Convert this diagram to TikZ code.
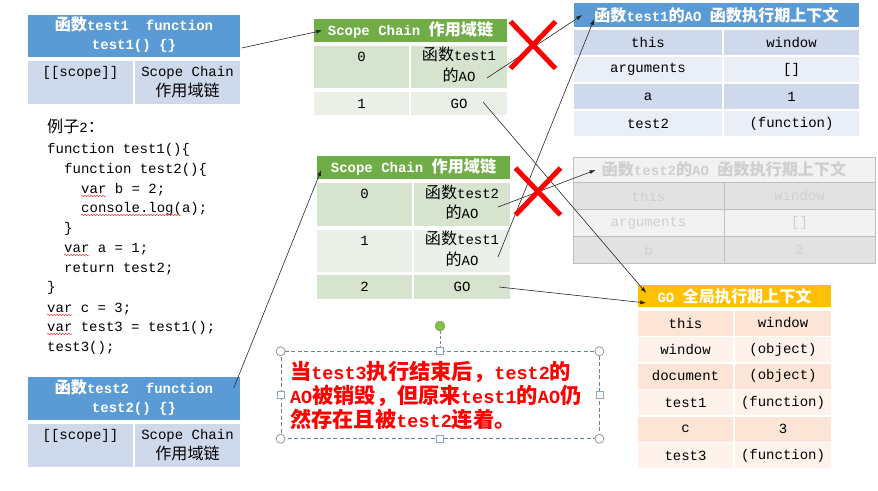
\documentclass[tikz,border=0pt]{standalone}
\usepackage{fontspec}
\setmainfont{Liberation Mono}
\newfontfamily\zhfont[Scale=1.15]{Noto Sans CJK SC}
\newcommand{\zh}[1]{{\zhfont #1}}
\newcommand{\tabfont}{\fontsize{14}{19}\selectfont}
\newcommand{\notefont}{\fontsize{18.5}{24}\selectfont}
\usetikzlibrary{arrows.meta,positioning,shapes.misc,decorations.pathmorphing}

\definecolor{hdblue}{HTML}{5B9BD5}
\definecolor{cellblue}{HTML}{CFD9EC}
\definecolor{paleblue}{HTML}{E9EEF7}
\definecolor{hdgreen}{HTML}{70AD47}
\definecolor{cellgreen}{HTML}{D5E3CF}
\definecolor{palegreen}{HTML}{EAF0E7}
\definecolor{hdorange}{HTML}{FFC000}
\definecolor{cellpeach}{HTML}{FCE4D6}
\definecolor{palepeach}{HTML}{FEF2EA}
\definecolor{fadefill}{HTML}{E2E2E2}
\definecolor{fadepale}{HTML}{F2F2F2}
\definecolor{fadeline}{HTML}{BFBFBF}
\definecolor{fadetext}{HTML}{CFCFCF}
\definecolor{framegray}{HTML}{6A7F9A}
\definecolor{handlegray}{HTML}{8C8C8C}
\definecolor{handleblue}{HTML}{8DA6C4}
\definecolor{rotgreen}{HTML}{80C342}

\tikzset{
  cell/.style={draw=white, line width=1.5pt, inner sep=1pt, align=center, font=\tabfont},
  hdcell/.style={cell, text=white, font=\tabfont\bfseries},
  fadecell/.style={cell, draw=fadeline, line width=0.8pt, text=fadetext},
  codeline/.style={anchor=base west, inner sep=0pt, font=\fontsize{14}{20}\selectfont},
  squig/.style={red!75, line width=0.5pt, decorate, decoration={snake, amplitude=0.8pt, segment length=3pt}},
  conn/.style={-{Latex[length=6pt,width=4pt]}, line width=0.6pt, black!85},
  xmark/.style={cross out, draw=red, line width=5pt, minimum width=40, minimum height=42, inner sep=0pt},
  notebox/.style={draw=framegray, dash pattern=on 4pt off 2.5pt, line width=0.8pt,
    minimum width=318, minimum height=86, text width=300, inner sep=9pt,
    align=left, text=red, font=\notefont\bfseries},
  cornerhandle/.style={circle, draw=handlegray, fill=white, line width=0.7pt, minimum size=9, inner sep=0pt},
  sidehandle/.style={rectangle, draw=handleblue, fill=white, line width=0.7pt, minimum size=7, inner sep=0pt},
  rothandle/.style={circle, draw=handlegray, fill=rotgreen, line width=0.5pt, minimum size=10, inner sep=0pt}
}

\begin{document}
\begin{tikzpicture}[x=1pt,y=-1pt]
  \useasboundingbox (0,0) rectangle (878,490);

  % function test1 object
  \node[hdcell, fill=hdblue, minimum width=214, minimum height=44] (fa) at (134,36) {\zh{函数}test1~~function\strut\\test1() \{\}\strut};
  \node[cell, fill=cellblue, minimum width=107, minimum height=45] (fasc) at (80.5,82.5) {[[scope]]\strut\\\strut};
  \node[cell, fill=cellblue, minimum width=107, minimum height=45] (fach) at (187.5,82.5) {Scope Chain\strut\\\zh{作用域链}\strut};

  % function test2 object
  \node[hdcell, fill=hdblue, minimum width=214, minimum height=45] (fb) at (134,398.5) {\zh{函数}test2~~function\strut\\test2() \{\}\strut};
  \node[cell, fill=cellblue, minimum width=107, minimum height=45] (fbsc) at (80.5,445.5) {[[scope]]\strut\\\strut};
  \node[cell, fill=cellblue, minimum width=107, minimum height=45] (fbch) at (187.5,445.5) {Scope Chain\strut\\\zh{作用域链}\strut};

  % code
  \node[codeline] (c1) at (47,132) {\zh{例子}2\zh{：}};
  \node[codeline] (c2) at (47,153) {function test1()\{};
  \node[codeline] (c3) at (64,173) {function test2()\{};
  \node[codeline] (c4) at (81,193) {var b = 2;};
  \node[codeline] (c5) at (81,212) {console.log(a);};
  \node[codeline] (c6) at (64,232) {\}};
  \node[codeline] (c7) at (64,252) {var a = 1;};
  \node[codeline] (c8) at (64,272) {return test2;};
  \node[codeline] (c9) at (47,291) {\}};
  \node[codeline] (c10) at (47,312) {var c = 3;};
  \node[codeline] (c11) at (47,331) {var test3 = test1();};
  \node[codeline] (c12) at (47,351) {test3();};
  \draw[squig] ([yshift=-3pt]c4.base west) -- ++(25,0);
  \draw[squig] ([yshift=-3pt]c5.base west) -- ++(100,0);
  \draw[squig] ([yshift=-3pt]c7.base west) -- ++(25,0);
  \draw[squig] ([yshift=-3pt]c10.base west) -- ++(25,0);
  \draw[squig] ([yshift=-3pt]c11.base west) -- ++(25,0);

  % scope chain of test1
  \node[hdcell, fill=hdgreen, minimum width=195, minimum height=25] (s1h) at (410.5,30.5) {Scope Chain \zh{作用域链}};
  \node[cell, fill=cellgreen, minimum width=97, minimum height=44] (s1a0) at (361.5,67) {0\strut\\\strut};
  \node[cell, fill=cellgreen, minimum width=98, minimum height=44] (s1b0) at (459,67) {\zh{函数}test1\strut\\\zh{的}AO\strut};
  \node[cell, fill=palegreen, minimum width=97, minimum height=25] (s1a1) at (361.5,103.5) {1};
  \node[cell, fill=palegreen, minimum width=98, minimum height=25] (s1b1) at (459,103.5) {GO};

  % scope chain of test2
  \node[hdcell, fill=hdgreen, minimum width=195, minimum height=25] (s2h) at (413.5,167.5) {Scope Chain \zh{作用域链}};
  \node[cell, fill=cellgreen, minimum width=97, minimum height=45] (s2a0) at (364.5,204.5) {0\strut\\\strut};
  \node[cell, fill=cellgreen, minimum width=98, minimum height=45] (s2b0) at (462,204.5) {\zh{函数}test2\strut\\\zh{的}AO\strut};
  \node[cell, fill=palegreen, minimum width=97, minimum height=44] (s2a1) at (364.5,251) {1\strut\\\strut};
  \node[cell, fill=palegreen, minimum width=98, minimum height=44] (s2b1) at (462,251) {\zh{函数}test1\strut\\\zh{的}AO\strut};
  \node[cell, fill=cellgreen, minimum width=97, minimum height=26] (s2a2) at (364.5,287) {2};
  \node[cell, fill=cellgreen, minimum width=98, minimum height=26] (s2b2) at (462,287) {GO};

  % AO of test1
  \node[hdcell, fill=hdblue, minimum width=287, minimum height=26] (aoh) at (716.5,15) {\zh{函数}test1\zh{的}AO \zh{函数执行期上下文}};
  \node[cell, fill=cellblue, minimum width=150, minimum height=27] (aoa1) at (648,42.5) {this};
  \node[cell, fill=cellblue, minimum width=137, minimum height=27] (aob1) at (791.5,42.5) {window};
  \node[cell, fill=paleblue, minimum width=150, minimum height=27] (aoa2) at (648,69.5) {arguments};
  \node[cell, fill=paleblue, minimum width=137, minimum height=27] (aob2) at (791.5,69.5) {[]};
  \node[cell, fill=cellblue, minimum width=150, minimum height=27] (aoa3) at (648,96.5) {a};
  \node[cell, fill=cellblue, minimum width=137, minimum height=27] (aob3) at (791.5,96.5) {1};
  \node[cell, fill=paleblue, minimum width=150, minimum height=27] (aoa4) at (648,123.5) {test2};
  \node[cell, fill=paleblue, minimum width=137, minimum height=27] (aob4) at (791.5,123.5) {(function)};

  % AO of test2, destroyed
  \node[fadecell, fill=fadepale, font=\tabfont\bfseries, minimum width=302, minimum height=25] (fth) at (724,169.5) {\zh{函数}test2\zh{的}AO \zh{函数执行期上下文}};
  \node[fadecell, fill=fadefill, minimum width=151, minimum height=27] (fta1) at (648.5,196) {this};
  \node[fadecell, fill=fadefill, minimum width=151, minimum height=27] (ftb1) at (799.5,196) {window};
  \node[fadecell, fill=fadepale, minimum width=151, minimum height=27] (fta2) at (648.5,223) {arguments};
  \node[fadecell, fill=fadepale, minimum width=151, minimum height=27] (ftb2) at (799.5,223) {[]};
  \node[fadecell, fill=fadefill, minimum width=151, minimum height=27] (fta3) at (648.5,250) {b};
  \node[fadecell, fill=fadefill, minimum width=151, minimum height=27] (ftb3) at (799.5,250) {2};

  % GO
  \node[hdcell, fill=hdorange, minimum width=195, minimum height=24] (goh) at (734.5,296) {GO \zh{全局执行期上下文}};
  \node[cell, fill=cellpeach, minimum width=97, minimum height=26.5] (goa1) at (685.5,323) {this};
  \node[cell, fill=cellpeach, minimum width=98, minimum height=26.5] (gob1) at (783,323) {window};
  \node[cell, fill=palepeach, minimum width=97, minimum height=26.5] (goa2) at (685.5,349.5) {window};
  \node[cell, fill=palepeach, minimum width=98, minimum height=26.5] (gob2) at (783,349.5) {(object)};
  \node[cell, fill=cellpeach, minimum width=97, minimum height=26.5] (goa3) at (685.5,376) {document};
  \node[cell, fill=cellpeach, minimum width=98, minimum height=26.5] (gob3) at (783,376) {(object)};
  \node[cell, fill=palepeach, minimum width=97, minimum height=26.5] (goa4) at (685.5,402.5) {test1};
  \node[cell, fill=palepeach, minimum width=98, minimum height=26.5] (gob4) at (783,402.5) {(function)};
  \node[cell, fill=cellpeach, minimum width=97, minimum height=26.5] (goa5) at (685.5,429) {c};
  \node[cell, fill=cellpeach, minimum width=98, minimum height=26.5] (gob5) at (783,429) {3};
  \node[cell, fill=palepeach, minimum width=97, minimum height=26.5] (goa6) at (685.5,455.5) {test3};
  \node[cell, fill=palepeach, minimum width=98, minimum height=26.5] (gob6) at (783,455.5) {(function)};

  % links
  \draw[conn] ([yshift=-12pt]fa.east) -- ([xshift=10pt]s1h.west);
  \draw[conn] ([xshift=-8pt,yshift=10.5pt]fb.east) -- ([xshift=6pt,yshift=-2.5pt]s2h.west);
  \draw[conn] ([xshift=28pt,yshift=-11pt]s1b0.center) -- ([xshift=10pt]aoh.west);
  \draw[conn] ([xshift=36pt,yshift=-6pt]s2b1.center) -- ([xshift=22pt,yshift=-4pt]aoh.west);
  \draw[conn] ([xshift=24pt,yshift=1.5pt]s1b1.center) -- ([xshift=10pt,yshift=3pt]goh.west);
  \draw[conn] ([xshift=37pt]s2b2.center) -- ([xshift=10pt,yshift=-7pt]goh.west);
  \draw[conn] ([xshift=36pt,yshift=-2.5pt]s2b0.center) -- ([xshift=23pt,yshift=-0.5pt]fth.west);

  % broken links
  \node[xmark] (x1) at (533,45) {};
  \node[xmark] (x2) at (538,191.5) {};

  % note
  \node[notebox] (note) at (440,395) {\zh{当}test3\zh{执行结束后，}test2\zh{的}\\AO\zh{被销毁，但原来}test1\zh{的}AO\zh{仍}\\\zh{然存在且被}test2\zh{连着。}};
  \node[rothandle] (rot) [above=20pt of note.north] {};
  \draw[framegray, dash pattern=on 3pt off 2pt, line width=0.7pt] (rot) -- (note.north);
  \foreach \a/\n in {north west/nw, north east/ne, south west/sw, south east/se}
    \node[cornerhandle] (h\n) at (note.\a) {};
  \foreach \a/\n in {north/n, south/s, west/w, east/e}
    \node[sidehandle] (h\n) at (note.\a) {};
\end{tikzpicture}
\end{document}
